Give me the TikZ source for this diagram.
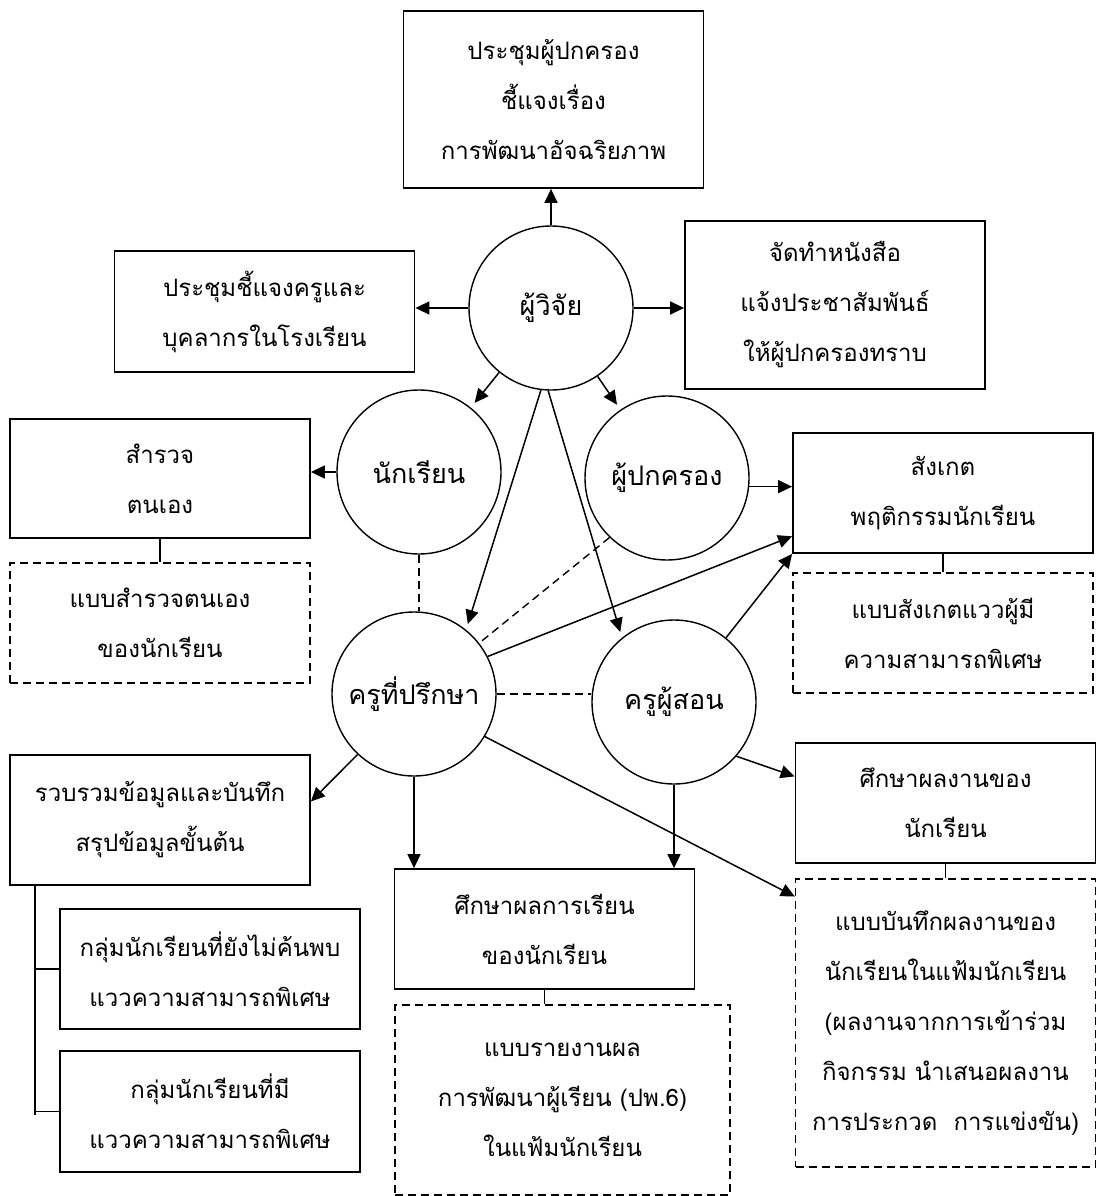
\documentclass[tikz,border=0pt]{standalone}
\usepackage{fontspec}
\newfontfamily\thaifont[Script=Thai]{Loma}
\usetikzlibrary{arrows.meta}

\begin{document}
\begin{tikzpicture}[x=1pt,y=-1pt,
        box/.style={draw,line width=1.8pt,align=center,inner sep=0pt,minimum width=300pt,
            font=\thaifont\fontsize{24}{50}\selectfont},
        formbox/.style={box,line width=1.4pt,dash pattern=on 8pt off 5pt},
        person/.style={draw,circle,line width=1.4pt,minimum size=164pt,inner sep=0pt,
            font=\thaifont\fontsize{27}{30}\selectfont},
        arr/.style={-{Triangle[length=14pt,width=13pt]},line width=1.5pt},
        link/.style={line width=1.5pt},
        dlink/.style={line width=1.4pt,dash pattern=on 8pt off 5pt}]
    \useasboundingbox (0,0) rectangle (1096,1196);
    %% People
    \node[person] (wj) at (551,308) {ผู้วิจัย};
    \node[person] (nr) at (419,472) {นักเรียน};
    \node[person] (pk) at (667,478) {ผู้ปกครอง};
    \node[person] (kt) at (414,694) {ครูที่ปรึกษา};
    \node[person] (ks) at (674,702) {ครูผู้สอน};
    %% Tasks
    \node[box,minimum height=177pt] (meet) at (553.5,99.5) {ประชุมผู้ปกครอง\\ชี้แจงเรื่อง\\การพัฒนาอัจฉริยภาพ};
    \node[box,minimum height=121pt] (staff) at (264.5,311.5) {ประชุมชี้แจงครูและ\\บุคลากรในโรงเรียน};
    \node[box,minimum height=168pt] (letter) at (835,305) {จัดทำหนังสือ\\แจ้งประชาสัมพันธ์\\ให้ผู้ปกครองทราบ};
    \node[box,minimum height=119pt] (survey) at (160,478.5) {สำรวจ\\ตนเอง};
    \node[box,minimum height=120pt] (observe) at (943,493) {สังเกต\\พฤติกรรมนักเรียน};
    \node[box,minimum height=130pt] (collect) at (160,820) {รวบรวมข้อมูลและบันทึก\\สรุปข้อมูลขั้นต้น};
    \node[box,minimum height=120pt] (groupA) at (210,969) {กลุ่มนักเรียนที่ยังไม่ค้นพบ\\แววความสามารถพิเศษ};
    \node[box,minimum height=121pt] (groupB) at (210,1111.5) {กลุ่มนักเรียนที่มี\\แววความสามารถพิเศษ};
    \node[box,minimum height=120pt] (grades) at (544.5,929) {ศึกษาผลการเรียน\\ของนักเรียน};
    \node[box,minimum height=120pt] (works) at (945.5,803) {ศึกษาผลงานของ\\นักเรียน};
    %% Forms
    \node[formbox,minimum height=120pt] (surveyform) at (160,623) {แบบสำรวจตนเอง\\ของนักเรียน};
    \node[formbox,minimum height=120pt] (observeform) at (943,633) {แบบสังเกตแววผู้มี\\ความสามารถพิเศษ};
    \node[formbox,minimum width=335pt,minimum height=190pt] (gradesform) at (562.5,1100) {แบบรายงานผล\\การพัฒนาผู้เรียน (ปพ.6)\\ในแฟ้มนักเรียน};
    \node[formbox,minimum height=288pt] (worksform) at (945.5,1023) {แบบบันทึกผลงานของ\\นักเรียนในแฟ้มนักเรียน\\(ผลงานจากการเข้าร่วม\\กิจกรรม นำเสนอผลงาน\\การประกวด\ \ การแข่งขัน)};
    %% Arrows from the researcher
    \draw[arr] (wj.north) -- (wj.north |- meet.south);
    \draw[arr] (wj.west) -- (wj.west -| staff.east);
    \draw[arr] (wj.east) -- (wj.east -| letter.west);
    \draw[arr,shorten >=6pt] (wj) -- (nr);
    \draw[arr,shorten >=6pt] (wj) -- (pk);
    \draw[arr,shorten >=6pt] (wj.263) -- (kt.51);
    \draw[arr,shorten >=6pt] (wj.268) -- (ks.129);
    %% Arrows to the tasks
    \draw[arr] (nr.west) -- (nr.west -| survey.east);
    \draw[arr] (pk.-6) -- (pk.-6 -| observe.west);
    \draw[arr] (kt.27) -- (observe.196);
    \draw[arr] (ks.51) -- (observe.south west);
    \draw[arr] (ks.-41) -- (works.170);
    \draw[arr] (kt.227) -- (collect.7);
    \draw[arr] (kt.south) -- (kt.south |- grades.north);
    \draw[arr] (ks.south) -- (ks.south |- grades.north);
    \draw[arr] (kt.-31) -- (worksform.140);
    %% Dashed ties
    \draw[dlink] (nr.south) -- (nr.south |- kt.north);
    \draw[dlink] (pk.226) -- (kt.38);
    \draw[dlink] (kt.east) -- (kt.east -| ks.west);
    %% Forms under tasks
    \draw[link] (survey.south) -- (surveyform.north);
    \draw[link] (observe.south) -- (observe.south |- observeform.north);
    \draw[link] (grades.south) -- (grades.south |- gradesform.north);
    \draw[link] (works.south) -- (works.south |- worksform.north);
    %% Groups
    \coordinate (trunk) at (35,1115);
    \draw[link] (trunk |- collect.south) -- (trunk);
    \draw[link] (trunk |- groupA.west) -- (groupA.west);
    \draw[link] (trunk |- groupB.west) -- (groupB.west);
\end{tikzpicture}
\end{document}
